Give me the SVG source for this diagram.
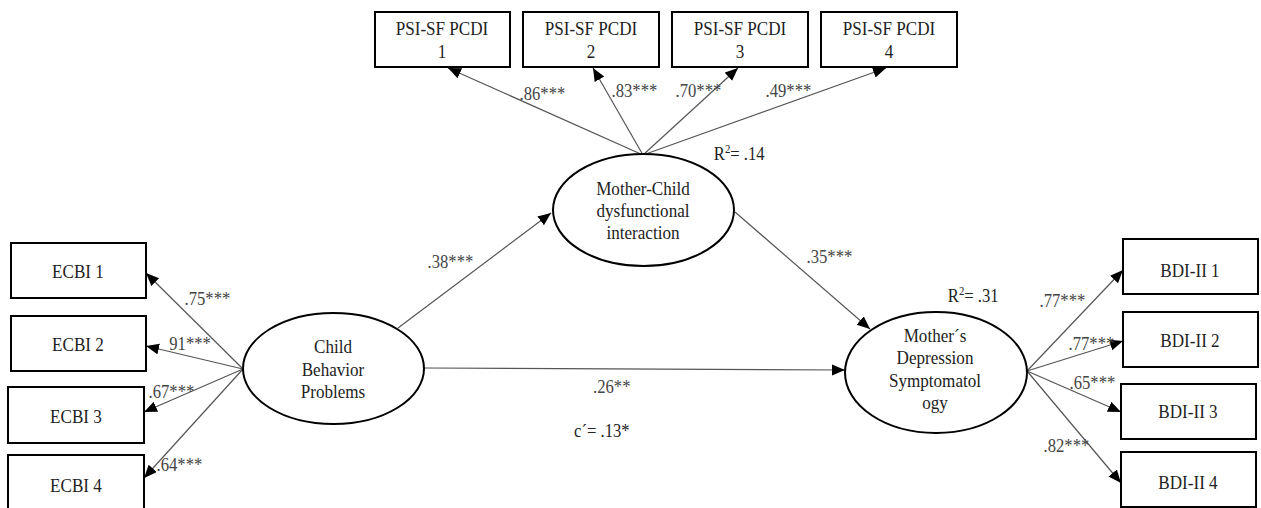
<svg xmlns="http://www.w3.org/2000/svg" width="1261" height="508" viewBox="0 0 1261 508">
<style>
.box{fill:#fff;stroke:#000;stroke-width:2}
.ell{fill:#fff;stroke:#000;stroke-width:2}
text{transform:scaleX(0.9);transform-box:fill-box;transform-origin:center}
.nt{font-family:"Liberation Serif","Times New Roman",serif;font-size:19px;fill:#222;text-anchor:middle}
.lb{font-family:"Liberation Serif","Times New Roman",serif;font-size:18.5px;fill:#444}
.cn line{stroke:#555;stroke-width:1.2;marker-end:url(#ah)}
</style>
<defs>
<marker id="ah" markerUnits="userSpaceOnUse" markerWidth="14" markerHeight="12" refX="13" refY="5.5" orient="auto">
<path d="M0,0 L13,5.5 L0,11 z" fill="#000"/>
</marker>
</defs>
<rect width="1261" height="508" fill="#fff"/>
<g id="connectors" class="cn">
<line x1="243" y1="369" x2="146" y2="273"/>
<line x1="243" y1="369" x2="146" y2="346"/>
<line x1="243" y1="369" x2="144" y2="412"/>
<line x1="243" y1="369" x2="144" y2="478"/>
<line x1="398" y1="328" x2="551" y2="213"/>
<line x1="424" y1="368" x2="845" y2="370"/>
<line x1="735" y1="212" x2="870" y2="329"/>
<line x1="643" y1="155" x2="448" y2="68"/>
<line x1="643" y1="155" x2="593" y2="68"/>
<line x1="643" y1="155" x2="738" y2="68"/>
<line x1="643" y1="155" x2="886" y2="68"/>
<line x1="1027" y1="371" x2="1123" y2="270"/>
<line x1="1027" y1="371" x2="1123" y2="341"/>
<line x1="1027" y1="371" x2="1121" y2="412"/>
<line x1="1027" y1="371" x2="1121" y2="483"/>
</g>
<g id="ecbi1"><rect class="box" x="11" y="243" width="135" height="55"/><text class="nt" x="78" y="278">ECBI 1</text></g>
<g id="ecbi2"><rect class="box" x="11" y="316" width="135" height="55"/><text class="nt" x="78" y="351">ECBI 2</text></g>
<g id="ecbi3"><rect class="box" x="8" y="387" width="136" height="56"/><text class="nt" x="76" y="423">ECBI 3</text></g>
<g id="ecbi4"><rect class="box" x="8" y="455" width="136" height="60"/><text class="nt" x="76" y="492">ECBI 4</text></g>
<g id="psi1"><rect class="box" x="375" y="12" width="135" height="55"/><text class="nt" x="442" y="35">PSI-SF PCDI</text><text class="nt" x="442" y="58">1</text></g>
<g id="psi2"><rect class="box" x="523" y="12" width="136" height="55"/><text class="nt" x="591" y="35">PSI-SF PCDI</text><text class="nt" x="591" y="58">2</text></g>
<g id="psi3"><rect class="box" x="672" y="12" width="136" height="55"/><text class="nt" x="740" y="35">PSI-SF PCDI</text><text class="nt" x="740" y="58">3</text></g>
<g id="psi4"><rect class="box" x="821" y="12" width="136" height="55"/><text class="nt" x="889" y="35">PSI-SF PCDI</text><text class="nt" x="889" y="58">4</text></g>
<g id="bdi1"><rect class="box" x="1123" y="239" width="135" height="55"/><text class="nt" x="1190" y="277">BDI-II 1</text></g>
<g id="bdi2"><rect class="box" x="1123" y="312" width="135" height="55"/><text class="nt" x="1190" y="347">BDI-II 2</text></g>
<g id="bdi3"><rect class="box" x="1121" y="384" width="135" height="55"/><text class="nt" x="1188" y="418">BDI-II 3</text></g>
<g id="bdi4"><rect class="box" x="1121" y="452" width="135" height="55"/><text class="nt" x="1188" y="489">BDI-II 4</text></g>
<g id="child"><ellipse class="ell" cx="333.5" cy="368.5" rx="90.5" ry="55.5"/><text class="nt" x="333" y="353">Child</text><text class="nt" x="333" y="376">Behavior</text><text class="nt" x="333" y="398">Problems</text></g>
<g id="mc"><ellipse class="ell" cx="643.5" cy="210" rx="90.5" ry="56"/><text class="nt" x="643" y="195">Mother-Child</text><text class="nt" x="643" y="217">dysfunctional</text><text class="nt" x="643" y="239">interaction</text></g>
<g id="md"><ellipse class="ell" cx="936" cy="372.5" rx="91" ry="60.5"/><text class="nt" x="935" y="342">Mother´s</text><text class="nt" x="935" y="364">Depression</text><text class="nt" x="935" y="387">Symptomatol</text><text class="nt" x="935" y="409">ogy</text></g>
<g id="labels">
<text class="lb" x="517" y="100">.86***</text>
<text class="lb" x="609" y="97">.83***</text>
<text class="lb" x="673" y="97">.70***</text>
<text class="lb" x="763" y="97">.49***</text>
<text class="lb" x="711" y="160" style="fill:#222">R<tspan font-size="12" dy="-7">2</tspan><tspan dy="7">= .14</tspan></text>
<text class="lb" x="425" y="268">.38***</text>
<text class="lb" x="804" y="263">.35***</text>
<text class="lb" x="945" y="302" style="fill:#222">R<tspan font-size="12" dy="-7">2</tspan><tspan dy="7">= .31</tspan></text>
<text class="lb" x="1037" y="307">.77***</text>
<text class="lb" x="1066" y="350">.77***</text>
<text class="lb" x="1067" y="389">.65***</text>
<text class="lb" x="1041" y="452">.82***</text>
<text class="lb" x="182" y="305">.75***</text>
<text class="lb" x="167" y="350">91***</text>
<text class="lb" x="146" y="398">.67***</text>
<text class="lb" x="154" y="471">.64***</text>
<text class="lb" x="591" y="393">.26**</text>
<text class="lb" x="571" y="437" style="fill:#222">c´= .13*</text>
</g>
</svg>
